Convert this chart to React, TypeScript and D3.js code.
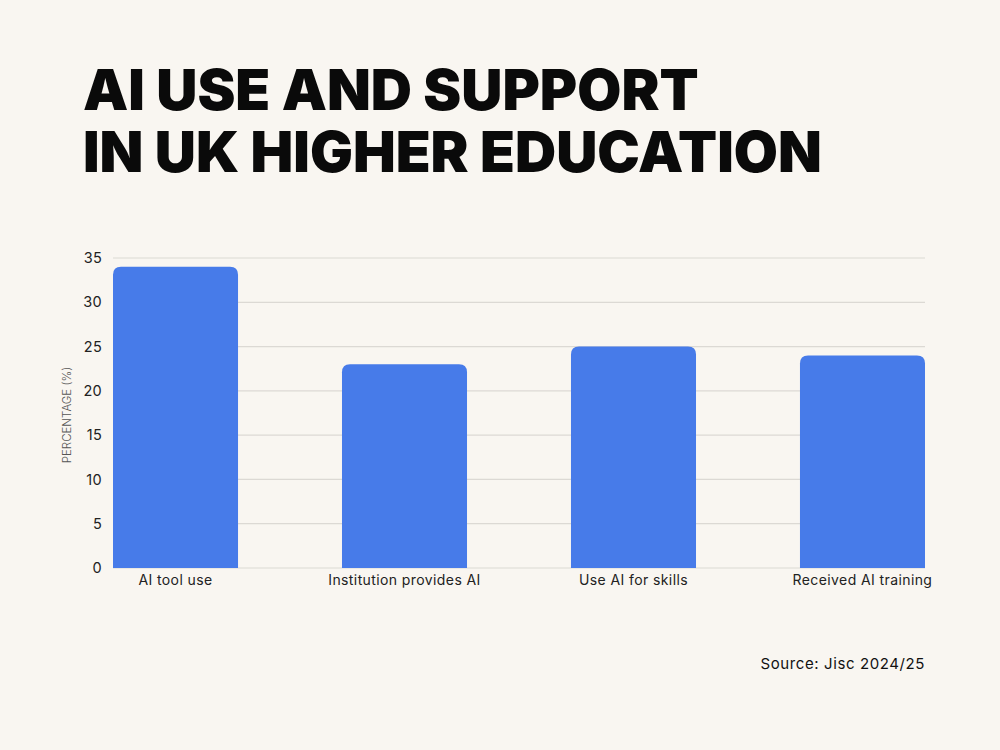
import React from "react";
import * as d3 from "d3";

const categories = ["AI tool use", "Institution provides AI", "Use AI for skills", "Received AI training"];
const values = [34, 23, 25, 24];
const yTicks = [0, 5, 10, 15, 20, 25, 30, 35];
const titleLines = ["AI USE AND SUPPORT", "IN UK HIGHER EDUCATION"];
const yAxisTitle = "PERCENTAGE (%)";
const sourceText = "Source: Jisc 2024/25";

const W = 1000;
const H = 750;
const left = 113;
const right = 925;
const top = 258;
const bottom = 568;

function topRoundedRect(x: number, y: number, w: number, h: number, r: number) {
  const rr = Math.min(r, h, w / 2);
  return `M${x},${y + h}V${y + rr}Q${x},${y} ${x + rr},${y}H${x + w - rr}Q${x + w},${y} ${x + w},${y + rr}V${y + h}Z`;
}

export default function App() {
  const x = d3.scaleBand<string>().domain(categories).range([left, right]).paddingInner(0.454).paddingOuter(0);
  const y = d3.scaleLinear().domain([0, 35]).range([bottom, top]);
  const font = "Inter, 'Noto Sans', sans-serif";
  return (
    <svg width={W} height={H} style={{ position: "absolute", left: 0, top: 0, display: "block" }}>
      <rect width={W} height={H} fill="#f9f6f1" />
      <text fontFamily="Inter, sans-serif" fontWeight={900} fontSize={57} fill="#0a0a0a">
        {titleLines.map((t, i) => (
          <tspan key={i} x={83} y={110 + i * 62}>{t}</tspan>
        ))}
      </text>
      {yTicks.map((t) => (
        <g key={t}>
          <line x1={left} x2={right} y1={y(t)} y2={y(t)} stroke="#dcd9d4" strokeWidth={1.2} />
          <text x={102} y={y(t)} dy="0.35em" textAnchor="end" fontFamily={font} fontSize={14.5} fill="#222"
            letterSpacing={0.3}>{t}</text>
        </g>
      ))}
      <text transform={`translate(71,${(top + bottom) / 2 + 2}) rotate(-90)`} textAnchor="middle" fontFamily={font}
        fontSize={11.5} fill="#555" fontWeight={300}>{yAxisTitle}</text>
      {categories.map((c, i) => {
        const bx = x(c)!;
        const by = y(values[i]);
        return (
          <path key={c} d={topRoundedRect(bx, by, x.bandwidth(), bottom - by, 8)} fill="#477be9" />
        );
      })}
      {categories.map((c) => (
        <text key={c} x={x(c)! + x.bandwidth() / 2} y={580} dy="0.35em" textAnchor="middle" fontFamily={font}
          fontSize={14} fill="#222" letterSpacing={0.4}>{c}</text>
      ))}
      <text x={925} y={664} dy="0.35em" textAnchor="end" fontFamily={font} fontSize={15} fill="#111"
        letterSpacing={0.6}>{sourceText}</text>
    </svg>
  );
}
